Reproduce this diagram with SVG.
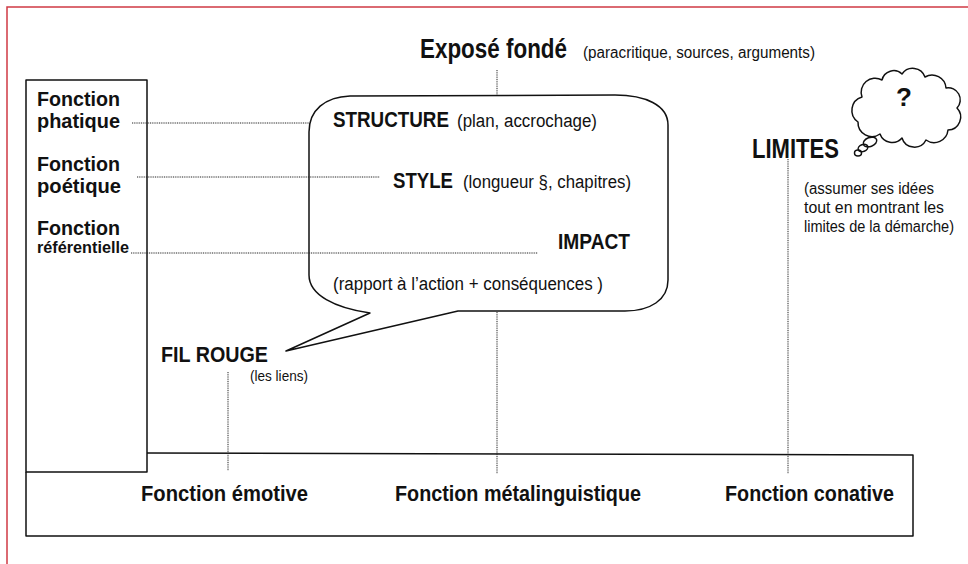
<svg xmlns="http://www.w3.org/2000/svg" width="968" height="564" viewBox="0 0 968 564">
<style>
.b{font-family:"Liberation Sans",Arial,sans-serif;font-weight:bold;fill:#111}
.r{font-family:"Liberation Sans",Arial,sans-serif;fill:#111}
.ln{fill:none;stroke:#111;stroke-width:1.5;stroke-linejoin:round}
.dot{fill:none;stroke:#222;stroke-width:1;stroke-dasharray:1 0.8}
</style>
<rect width="968" height="564" fill="#fff"/>
<path d="M7,564 L7,7 L968,7" fill="none" stroke="#d03a44" stroke-width="1.5"/>

<g id="frame-left">
<rect x="26" y="80" width="121" height="392" class="ln"/>
<text class="b" x="37" y="106" font-size="21" textLength="83" lengthAdjust="spacingAndGlyphs">Fonction</text>
<text class="b" x="37" y="128" font-size="21" textLength="83" lengthAdjust="spacingAndGlyphs">phatique</text>
<text class="b" x="37" y="171" font-size="21" textLength="83" lengthAdjust="spacingAndGlyphs">Fonction</text>
<text class="b" x="37" y="193" font-size="21" textLength="84" lengthAdjust="spacingAndGlyphs">poétique</text>
<text class="b" x="37" y="235" font-size="21" textLength="83" lengthAdjust="spacingAndGlyphs">Fonction</text>
<text class="b" x="37" y="253" font-size="16" textLength="92" lengthAdjust="spacingAndGlyphs">référentielle</text>
</g>

<g id="frame-bottom">
<path d="M26,472 L26,536 L913,536 L913,455 L147,453" class="ln"/>
<text class="b" x="141" y="501" font-size="22" textLength="167" lengthAdjust="spacingAndGlyphs">Fonction émotive</text>
<text class="b" x="395" y="501" font-size="22" textLength="246" lengthAdjust="spacingAndGlyphs">Fonction métalinguistique</text>
<text class="b" x="725" y="501" font-size="22" textLength="169" lengthAdjust="spacingAndGlyphs">Fonction conative</text>
</g>

<g id="expose">
<text class="b" x="420" y="58" font-size="27" textLength="147" lengthAdjust="spacingAndGlyphs">Exposé fondé</text>
<text class="r" x="583" y="58" font-size="16" textLength="232" lengthAdjust="spacingAndGlyphs">(paracritique, sources, arguments)</text>
</g>

<g id="bubble">
<path d="M309,132 C309,110 325,97 350,96 L615,95 C645,95 668,105 668,125 L668,280 C668,300 650,311 625,311 L458,311 L286,351 L370,313 C335,308 309,295 309,275 Z" class="ln" fill="#fff"/>
<text class="b" x="333" y="127" font-size="22" textLength="116" lengthAdjust="spacingAndGlyphs">STRUCTURE</text>
<text class="r" x="457" y="127" font-size="18" textLength="140" lengthAdjust="spacingAndGlyphs">(plan, accrochage)</text>
<text class="b" x="393" y="188" font-size="22" textLength="60" lengthAdjust="spacingAndGlyphs">STYLE</text>
<text class="r" x="463" y="188" font-size="18" textLength="168" lengthAdjust="spacingAndGlyphs">(longueur §, chapitres)</text>
<text class="b" x="558" y="249" font-size="22" textLength="72" lengthAdjust="spacingAndGlyphs">IMPACT</text>
<text class="r" x="333" y="290" font-size="18" textLength="270" lengthAdjust="spacingAndGlyphs">(rapport à l’action + conséquences )</text>
</g>

<g id="filrouge">
<text class="b" x="161" y="362" font-size="22" textLength="107" lengthAdjust="spacingAndGlyphs">FIL ROUGE</text>
<text class="r" x="250" y="381" font-size="15" textLength="58" lengthAdjust="spacingAndGlyphs">(les liens)</text>
</g>

<g id="limites">
<text class="b" x="752" y="158" font-size="28" textLength="87" lengthAdjust="spacingAndGlyphs">LIMITES</text>
<text class="r" x="804" y="194" font-size="16" textLength="130" lengthAdjust="spacingAndGlyphs">(assumer ses idées</text>
<text class="r" x="804" y="213" font-size="16" textLength="140" lengthAdjust="spacingAndGlyphs">tout en  montrant les</text>
<text class="r" x="804" y="232" font-size="16" textLength="150" lengthAdjust="spacingAndGlyphs">limites de la démarche)</text>
</g>

<g id="cloud">
<path class="ln" d="M858,122 A14 14 0 0 1 862,97 A14 14 0 0 1 882,80 A12 12 0 0 1 902,74 A13 13 0 0 1 925,77 A14 14 0 0 1 946,88 A12 12 0 0 1 957,108 A13 13 0 0 1 948,130 A14 14 0 0 1 926,140 A13 13 0 0 1 902,138 A13 13 0 0 1 880,134 A14 14 0 0 1 858,122 Z"/>
<ellipse class="ln" cx="870" cy="142" rx="7" ry="4.5" transform="rotate(-20 870 142)"/>
<ellipse class="ln" cx="863" cy="148" rx="5" ry="3.5" transform="rotate(-20 863 148)"/>
<ellipse class="ln" cx="858" cy="153" rx="3.5" ry="3"/>
<text class="b" x="904" y="106" font-size="26" text-anchor="middle">?</text>
</g>

<g id="connectors">
<line class="dot" x1="132" y1="123" x2="309" y2="123"/>
<line class="dot" x1="137" y1="177" x2="380" y2="177"/>
<line class="dot" x1="131" y1="253" x2="538" y2="253"/>
<line class="dot" x1="497" y1="70" x2="497" y2="95"/>
<line class="dot" x1="497" y1="312" x2="497" y2="474"/>
<line class="dot" x1="228" y1="372" x2="228" y2="471"/>
<line class="dot" x1="788" y1="159" x2="788" y2="474"/>
</g>
</svg>
